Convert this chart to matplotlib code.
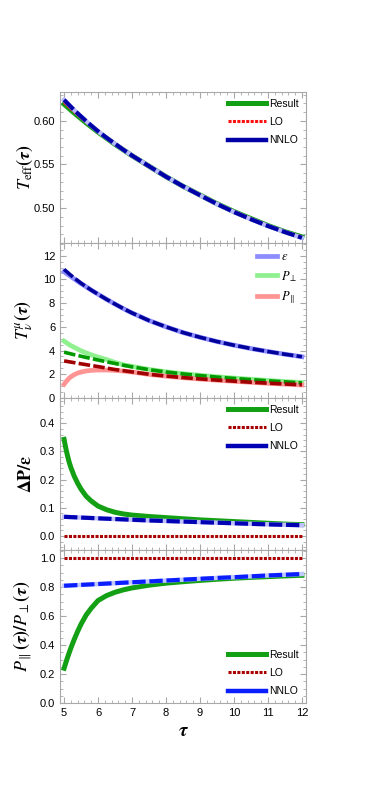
import numpy as np
import matplotlib
matplotlib.use("Agg")
import matplotlib.pyplot as plt
from matplotlib.lines import Line2D
from matplotlib.ticker import MultipleLocator, FormatStrFormatter

plt.rcParams['font.family'] = ['Liberation Sans', 'DejaVu Sans']
plt.rcParams['mathtext.fontset'] = 'stix'

# values
tau = [5.0, 5.05, 5.1, 5.15, 5.2, 5.3, 5.4, 5.5, 5.65, 5.8, 6.0, 6.25, 6.5, 6.75, 7.0,
       7.5, 8.0, 8.5, 9.0, 9.5, 10.0, 10.5, 11.0, 11.5, 12.0]

# panel 1: effective temperature
teff_result = [0.619, 0.6173, 0.6156, 0.6139, 0.6122, 0.6089, 0.6056, 0.6024, 0.5976, 0.593, 0.587, 0.580, 0.573, 0.5665, 0.560,
               0.548, 0.536, 0.525, 0.515, 0.505, 0.496, 0.488, 0.480, 0.473, 0.467]
teff_lo = [0.621, 0.6192, 0.6174, 0.6156, 0.6138, 0.6103, 0.6068, 0.6034, 0.5984, 0.5936, 0.5875, 0.5803, 0.5733, 0.5666, 0.560,
           0.548, 0.536, 0.525, 0.515, 0.505, 0.496, 0.488, 0.480, 0.473, 0.467]
teff_nnlo = [0.624, 0.622, 0.620, 0.618, 0.616, 0.6122, 0.6085, 0.6049, 0.5996, 0.5945, 0.588, 0.5806, 0.5736, 0.5667, 0.5602,
             0.548, 0.536, 0.525, 0.5147, 0.5047, 0.4955, 0.4872, 0.4795, 0.4725, 0.466]

# panel 2: energy-momentum tensor components
eps_result = [10.65, 10.54, 10.44, 10.34, 10.24, 10.04, 9.84, 9.64, 9.38, 9.1, 8.75, 8.32, 7.92, 7.53, 7.17,
              6.53, 6.0, 5.52, 5.12, 4.76, 4.45, 4.17, 3.92, 3.69, 3.48]
eps_nnlo = [10.85, 10.72, 10.6, 10.47, 10.35, 10.12, 9.9, 9.68, 9.38, 9.1, 8.75, 8.32, 7.92, 7.53, 7.17,
            6.53, 6.0, 5.52, 5.12, 4.76, 4.45, 4.17, 3.92, 3.69, 3.48]
pt_result = [4.8, 4.7, 4.6, 4.5, 4.42, 4.27, 4.12, 3.98, 3.8, 3.64, 3.45, 3.24, 3.0, 2.8, 2.66,
             2.41, 2.21, 2.05, 1.91, 1.79, 1.68, 1.58, 1.48, 1.39, 1.3]
pt_nnlo = [3.86, 3.83, 3.79, 3.76, 3.72, 3.65, 3.59, 3.52, 3.42, 3.33, 3.2, 3.05, 2.91, 2.76, 2.63,
           2.39, 2.19, 2.03, 1.89, 1.76, 1.65, 1.55, 1.45, 1.36, 1.27]
pl_result = [1.16, 1.35, 1.52, 1.67, 1.79, 1.97, 2.1, 2.19, 2.28, 2.33, 2.36, 2.36, 2.33, 2.27, 2.19,
             1.99, 1.84, 1.71, 1.6, 1.5, 1.41, 1.32, 1.24, 1.17, 1.1]
pl_nnlo = [3.13, 3.1, 3.08, 3.05, 3.03, 2.98, 2.93, 2.88, 2.81, 2.74, 2.65, 2.52, 2.4, 2.3, 2.2,
           2.0, 1.85, 1.72, 1.61, 1.51, 1.42, 1.33, 1.25, 1.18, 1.11]

# panel 3: pressure anisotropy over energy density
dp_result = [0.343, 0.312, 0.285, 0.262, 0.243, 0.212, 0.187, 0.166, 0.141, 0.124, 0.106, 0.093, 0.084, 0.078, 0.074,
             0.069, 0.065, 0.061, 0.057, 0.054, 0.051, 0.048, 0.045, 0.042, 0.040]
dp_lo = [0.0] * len(tau)
dp_nnlo = [0.068, 0.0677, 0.0674, 0.0671, 0.0668, 0.0663, 0.0657, 0.0652, 0.0644, 0.0636, 0.0625, 0.0612, 0.060, 0.0587, 0.0575,
           0.055, 0.053, 0.051, 0.049, 0.047, 0.045, 0.043, 0.041, 0.0395, 0.038]

# panel 4: pressure ratio
ratio_result = [0.24, 0.277, 0.313, 0.347, 0.38, 0.44, 0.495, 0.545, 0.608, 0.655, 0.708, 0.742, 0.765, 0.782, 0.795,
                0.814, 0.828, 0.838, 0.847, 0.855, 0.862, 0.868, 0.873, 0.878, 0.882]
ratio_lo = [1.0] * len(tau)
ratio_nnlo = [0.810, 0.8106, 0.8112, 0.8118, 0.8124, 0.8136, 0.8148, 0.816, 0.8178, 0.8196, 0.822, 0.825, 0.828, 0.831, 0.834,
              0.840, 0.846, 0.852, 0.858, 0.864, 0.869, 0.875, 0.881, 0.886, 0.891]

green = '#14a014'
frame = '#a8a8a8'

fig = plt.figure(figsize=(3.66, 7.96), dpi=100)
L, W = 60 / 366, 246 / 366
edges = [92, 243, 398, 550, 703]
axes = []
for i in range(4):
    top = 1 - edges[i] / 796
    bot = 1 - edges[i + 1] / 796
    axes.append(fig.add_axes([L, bot, W, top - bot]))

ax1, ax2, ax3, ax4 = axes

lo_dash = (1.0, 0.45)
nn_dash = (3.2, 0.9)


def three_lines(ax, y_res, y_lo, y_nn, lo_col, nn_col, pale):
    ax.plot(tau, y_res, color=green, lw=3.6)
    ax.plot(tau, y_lo, color=lo_col, lw=2.2, dashes=lo_dash)
    ax.plot(tau, y_nn, color=pale, lw=3.2)
    ax.plot(tau, y_nn, color=nn_col, lw=3.0, dashes=nn_dash)
    return [Line2D([], [], color=green, lw=3.6),
            Line2D([], [], color=lo_col, lw=2.2, dashes=lo_dash),
            Line2D([], [], color=nn_col, lw=3.2)]


leg_kw = dict(frameon=False, handlelength=3.65, labelspacing=0.8, fontsize=7.5,
              handletextpad=0.35, borderaxespad=0.25)
names = ['Result', 'LO', 'NNLO']

# panel 1
h = three_lines(ax1, teff_result, teff_lo, teff_nnlo, '#ff1010', '#0000a8', '#b8b8ff')
ax1.legend(h, names, loc='upper right', **leg_kw)
ax1.set_ylim(0.46, 0.633)
ax1.yaxis.set_major_locator(MultipleLocator(0.05))
ax1.yaxis.set_minor_locator(MultipleLocator(0.01))
ax1.yaxis.set_major_formatter(FormatStrFormatter('%.2f'))
ax1.set_ylabel(r'$\boldsymbol{T_{\rm eff}(\tau)}$', fontsize=13)

# panel 2
ax2.plot(tau, eps_result, color='#8c8cff', lw=3.4, label=r'$\epsilon$')
ax2.plot(tau, pt_result, color='#8ff08f', lw=3.4, label=r'$P_\perp$')
ax2.plot(tau, pl_result, color='#ff9494', lw=3.4, label=r'$P_{\parallel}$')
ax2.plot(tau, eps_nnlo, color='#00009a', lw=2.6, dashes=nn_dash)
ax2.plot(tau, pt_nnlo, color='#009a00', lw=2.6, dashes=nn_dash)
ax2.plot(tau, pl_nnlo, color='#a00000', lw=2.6, dashes=nn_dash)
ax2.legend(loc='upper right', **dict(leg_kw, fontsize=9, labelspacing=0.45, handlelength=1.6))
ax2.set_ylim(0, 13.07)
ax2.yaxis.set_major_locator(MultipleLocator(2))
ax2.yaxis.set_minor_locator(MultipleLocator(0.5))
ax2.set_ylabel(r'$\boldsymbol{T^{\mu}_{\nu}(\tau)}$', fontsize=13)

# panel 3
h = three_lines(ax3, dp_result, dp_lo, dp_nnlo, '#a80000', '#0000b4', '#c0c0ff')
ax3.legend(h, names, loc='upper right', **leg_kw)
ax3.set_ylim(-0.05, 0.49)
ax3.yaxis.set_major_locator(MultipleLocator(0.1))
ax3.yaxis.set_minor_locator(MultipleLocator(0.02))
ax3.yaxis.set_major_formatter(FormatStrFormatter('%.1f'))
ax3.set_ylabel(r'$\mathbf{\Delta P/\epsilon}$', fontsize=13)

# panel 4
h = three_lines(ax4, ratio_result, ratio_lo, ratio_nnlo, '#a80000', '#0a1eff', '#c0c8ff')
ax4.legend(h, names, loc='lower right', **leg_kw)
ax4.set_ylim(0, 1.057)
ax4.yaxis.set_major_locator(MultipleLocator(0.2))
ax4.yaxis.set_minor_locator(MultipleLocator(0.05))
ax4.yaxis.set_major_formatter(FormatStrFormatter('%.1f'))
ax4.set_ylabel(r'$\boldsymbol{P_{\parallel}(\tau)/P_{\perp}(\tau)}$', fontsize=13)
ax4.set_xlabel(r'$\boldsymbol{\tau}$', fontsize=14)

for ax in axes:
    ax.set_xlim(4.88, 12.12)
    ax.xaxis.set_major_locator(MultipleLocator(1))
    ax.xaxis.set_minor_locator(MultipleLocator(0.2))
    ax.tick_params(which='both', direction='in', top=True, right=True, color=frame, labelsize=8)
    ax.tick_params(which='major', length=4)
    ax.tick_params(which='minor', length=2)
    for s in ax.spines.values():
        s.set_color(frame)
    if ax is not ax4:
        ax.tick_params(labelbottom=False)
    ax.yaxis.set_label_coords(-0.10, 0.5)

fig.savefig('out.png', dpi=100)
